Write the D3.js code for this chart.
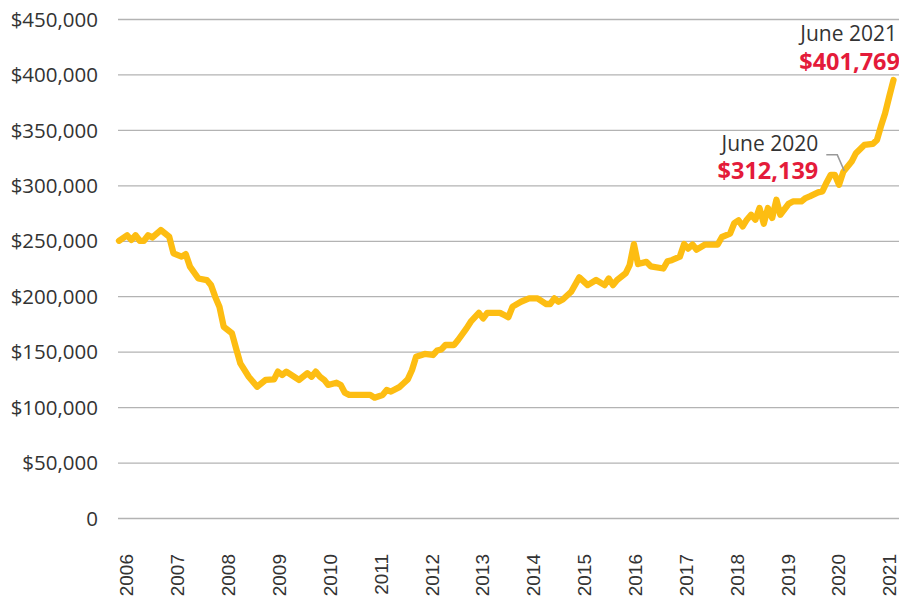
<!DOCTYPE html>
<html>
<head>
<meta charset="utf-8">
<script src="https://cdn.jsdelivr.net/npm/d3@7"></script>
<style>
  html, body { margin: 0; padding: 0; background: #fff; }
  svg { display: block; }
</style>
</head>
<body>
<svg id="chart" width="899" height="602"></svg>
<script>
// ---- Data (median home price) ----
const dates = [
  "2006-01","2006-03","2006-04","2006-05","2006-06","2006-07","2006-08","2006-09","2006-11",
  "2007-01","2007-02","2007-04","2007-05","2007-06","2007-08","2007-10","2007-11","2007-12",
  "2008-01","2008-02","2008-04","2008-05","2008-06","2008-08","2008-10","2008-12",
  "2009-02","2009-03","2009-04","2009-05","2009-08","2009-10","2009-11","2009-12",
  "2010-01","2010-02","2010-03","2010-05","2010-06","2010-07","2010-08",
  "2011-01","2011-02","2011-04","2011-05","2011-06","2011-08","2011-09","2011-10","2011-11","2011-12",
  "2012-02","2012-04","2012-05","2012-06","2012-07","2012-09","2012-10","2012-12",
  "2013-01","2013-03","2013-04","2013-05","2013-08","2013-09","2013-10","2013-11",
  "2014-01","2014-03","2014-05","2014-07","2014-08","2014-09","2014-10","2014-11",
  "2015-01","2015-03","2015-05","2015-07","2015-09","2015-10","2015-11","2015-12",
  "2016-02","2016-03","2016-04","2016-05","2016-07","2016-08","2016-11","2016-12",
  "2017-01","2017-03","2017-04","2017-05","2017-06","2017-07","2017-09","2017-12",
  "2018-01","2018-03","2018-04","2018-05","2018-06","2018-07","2018-08","2018-09","2018-10","2018-11","2018-12",
  "2019-01","2019-02","2019-03","2019-05","2019-06","2019-08","2019-09","2019-10","2019-12",
  "2020-01","2020-02","2020-03","2020-04","2020-05","2020-06","2020-08","2020-09","2020-11",
  "2021-01","2021-02","2021-03","2021-04","2021-05","2021-06"
];
const prices = [
  250000,255000,250700,255000,250000,250000,255000,253000,259700,
  253700,238700,235700,238000,226700,216000,214600,210000,199600,
  190600,172500,166600,153000,139500,127400,118400,124500,
  125000,132000,129000,132000,124500,130500,127400,132000,
  127400,124500,120000,122000,120000,113000,111000,
  111000,108500,111000,115400,114000,118000,121500,125000,133500,145500,
  148000,147000,151000,152000,156000,156000,160500,171000,
  177000,185000,180000,185000,185000,183000,181000,190600,
  195000,198000,198000,193000,193000,198000,195000,197000,
  204000,217000,210000,214600,210000,216000,210000,214600,
  220700,228000,247000,229000,231000,227000,225000,231500,
  232500,235700,247000,243000,246600,242000,246600,246600,
  253400,256400,266000,268400,263000,269000,273500,269000,279500,265400,279500,
  270600,287000,273500,283400,285500,285500,288500,290000,293600,
  294500,302600,309400,309400,300500,312139,321400,329000,336400,
  337300,341000,353000,365000,380000,395000
];
const yTicks = [0,50000,100000,150000,200000,250000,300000,350000,400000,450000];
const yearLabels = ["2006","2007","2008","2009","2010","2011","2012","2013","2014","2015","2016","2017","2018","2019","2020","2021"];
const annotations = [
  { date: "2020-06", label: "June 2020", value: "$312,139" },
  { date: "2021-06", label: "June 2021", value: "$401,769" }
];

// ---- Setup ----
const W = 899, H = 602;
const svg = d3.select("#chart");
const parse = d3.timeParse("%Y-%m");
const data = dates.map((d, i) => ({ date: parse(d), value: prices[i] }));

const x = d3.scaleTime()
  .domain([parse("2006-01"), parse("2021-06")])
  .range([119, 893.5]);
const y = d3.scaleLinear().domain([0, 450000]).range([518, 19]);
const xLab = d3.scalePoint().domain(yearLabels).range([126, 889]);

const lineColor = "#fdbd12";
const red = "#e41b3a";
const textColor = "#333333";

// ---- Gridlines + y labels ----
const yAxis = d3.axisLeft(y)
  .tickValues(yTicks)
  .tickSize(0)
  .tickPadding(20)
  .tickFormat(d => d === 0 ? "0" : "$" + d3.format(",")(d));
const gy = svg.append("g").attr("transform", "translate(118,0)").call(yAxis);
gy.select(".domain").remove();
gy.selectAll(".tick line")
  .attr("x1", 0).attr("x2", W - 118)
  .attr("stroke", "#b3b3b3").attr("stroke-width", 1.3);
gy.selectAll(".tick text")
  .attr("font-family", "'Open Sans', sans-serif")
  .attr("font-size", 20.5)
  .attr("fill", textColor)
  .attr("dy", "0.35em");

// ---- x labels ----
const xAxis = d3.axisBottom(xLab).tickSize(0).tickPadding(0);
const gx = svg.append("g").attr("transform", "translate(0,554)").call(xAxis);
gx.select(".domain").remove();
gx.selectAll(".tick text")
  .attr("transform", "rotate(-90)")
  .attr("text-anchor", "end")
  .attr("x", 0).attr("y", 0).attr("dy", "0.36em")
  .attr("font-family", "'Liberation Sans', Arial, sans-serif")
  .attr("font-size", 19)
  .attr("fill", textColor);

// ---- Line ----
const line = d3.line().x(d => x(d.date)).y(d => y(d.value));
svg.append("path")
  .datum(data)
  .attr("d", line)
  .attr("fill", "none")
  .attr("stroke", lineColor)
  .attr("stroke-width", 6.3)
  .attr("stroke-linejoin", "round")
  .attr("stroke-linecap", "round");

// ---- Annotations ----
// June 2020
(function () {
  const a = annotations[0];
  const d = data.find(p => +p.date === +parse(a.date));
  const px = x(d.date), py = y(d.value);
  svg.append("polyline")
    .attr("points", [[px - 17, py - 17], [px - 6, py - 17], [px + 1, py - 1]].map(p => p.join(",")).join(" "))
    .attr("fill", "none").attr("stroke", "#999").attr("stroke-width", 1.5);
  svg.append("text")
    .attr("x", px - 25).attr("y", py - 21)
    .attr("text-anchor", "end")
    .attr("font-family", "'Open Sans', sans-serif").attr("font-size", 21)
    .attr("fill", textColor).text(a.label);
  svg.append("text")
    .attr("x", px - 25).attr("y", py + 7.5)
    .attr("text-anchor", "end")
    .attr("font-family", "'Open Sans', sans-serif").attr("font-size", 23.5).attr("font-weight", 700)
    .attr("fill", red).text(a.value);
})();
// June 2021
(function () {
  const a = annotations[1];
  svg.append("text")
    .attr("x", 897).attr("y", 40.5)
    .attr("text-anchor", "end")
    .attr("font-family", "'Open Sans', sans-serif").attr("font-size", 21)
    .attr("fill", textColor).text(a.label);
  svg.append("text")
    .attr("x", 900).attr("y", 70)
    .attr("text-anchor", "end")
    .attr("font-family", "'Open Sans', sans-serif").attr("font-size", 23.5).attr("font-weight", 700)
    .attr("fill", red).text(a.value);
})();
</script>
</body>
</html>
